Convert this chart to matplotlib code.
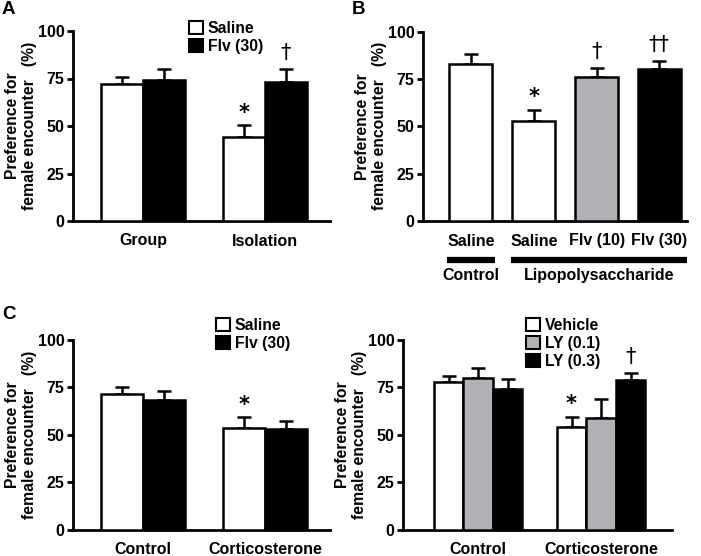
import matplotlib
matplotlib.use("Agg")
import matplotlib.pyplot as plt
from matplotlib.patches import Patch
import matplotlib.transforms as mtransforms
import numpy as np

plt.rcParams['font.family'] = ['Liberation Sans', 'DejaVu Sans']
plt.rcParams['font.weight'] = 'bold'

GRAY = '#b2b2b6'

# Panel A
a_groups = ['Group', 'Isolation']
a_series = ['Saline', 'Flv (30)']
a_saline = [72, 44]
a_saline_sem = [4, 6.3]
a_flv = [74, 73]
a_flv_sem = [6, 7.2]

# Panel B
b_labels = ['Saline', 'Saline', 'Flv (10)', 'Flv (30)']
b_vals = [83, 53, 76, 80]
b_sem = [5, 5.5, 4.8, 4.6]
b_groups = ['Control', 'Lipopolysaccharide']

# Panel C
c_groups = ['Control', 'Corticosterone']
c_series = ['Saline', 'Flv (30)']
c_saline = [71.5, 53.3]
c_saline_sem = [3.5, 5.8]
c_flv = [68.5, 53]
c_flv_sem = [4.3, 4.3]

# Panel D
d_groups = ['Control', 'Corticosterone']
d_series = ['Vehicle', 'LY (0.1)', 'LY (0.3)']
d_vehicle = [77.5, 54]
d_vehicle_sem = [3.3, 5.3]
d_ly01 = [80, 59]
d_ly01_sem = [5.3, 10]
d_ly03 = [74, 79]
d_ly03_sem = [5.4, 3.6]

yticks = [0, 25, 50, 75, 100]
ylabel = 'Preference for\nfemale encounter   (%)'

W, H = 701, 556
fig = plt.figure(figsize=(W / 100, H / 100), dpi=100)


def px_axes(l, r, t, b):
    return fig.add_axes([l / W, 1 - b / H, (r - l) / W, (b - t) / H])


def style(ax):
    for s in ['top', 'right']:
        ax.spines[s].set_visible(False)
    for s in ['left', 'bottom']:
        ax.spines[s].set_linewidth(2.0)
    ax.set_ylim(0, 100)
    ax.set_yticks(yticks)
    ax.tick_params(axis='y', length=4.5, width=2.0, pad=1.5, labelsize=11.5)
    ax.tick_params(axis='x', length=0, pad=9, labelsize=11.5)
    for lab in ax.get_xticklabels() + ax.get_yticklabels():
        lab.set_fontweight('bold')
    ax.set_ylabel(ylabel, fontsize=11.3, fontweight='bold', labelpad=1, linespacing=1.1)


def bars(ax, x, vals, sem, color, width):
    ax.bar(x, vals, width, color=color, edgecolor='black', linewidth=1.8, zorder=3)
    ax.errorbar(x, vals, yerr=[np.zeros(len(vals)), sem], fmt='none', ecolor='black',
                elinewidth=1.8, capsize=5.2, capthick=1.8, zorder=2)


def mark(ax, x, y, s, kind):
    if kind == 'star':
        ax.text(x, y + 1.5, s, ha='center', va='bottom', fontsize=15, fontweight='bold',
                family='DejaVu Sans', clip_on=False)
    else:
        ax.text(x, y + 3.0, s, ha='center', va='bottom', fontsize=15, fontweight='normal',
                family='DejaVu Sans', clip_on=False)


def legend(ax, labels, colors, x, y):
    handles = [Patch(facecolor=c, edgecolor='black', linewidth=1.5) for c in colors]
    ax.legend(handles, labels, loc='upper left', bbox_to_anchor=(x / W, 1 - y / H),
              bbox_transform=fig.transFigure, frameon=False, borderpad=0, borderaxespad=0,
              handlelength=0.9, handleheight=0.9, handletextpad=0.3, labelspacing=0.2,
              prop={'weight': 'bold', 'size': 11.3})


# ---- Panel A ----
axA = px_axes(73, 330, 31, 221)
xa = np.arange(len(a_groups))
wa = 0.345
bars(axA, xa - wa / 2, a_saline, a_saline_sem, 'white', wa)
bars(axA, xa + wa / 2, a_flv, a_flv_sem, 'black', wa)
axA.set_xlim(-0.574, 1.533)
axA.set_xticks(xa)
axA.set_xticklabels(a_groups)
style(axA)
mark(axA, xa[1] - wa / 2, a_saline[1] + a_saline_sem[1], '*', 'star')
mark(axA, xa[1] + wa / 2, a_flv[1] + a_flv_sem[1], '\u2020', 'dagger')
legend(axA, a_series, ['white', 'black'], 189, 21)

# ---- Panel B ----
axB = px_axes(423, 687, 31.5, 221)
xb = np.arange(len(b_labels))
wb = 0.685
bars(axB, xb, b_vals, b_sem, ['white', 'white', GRAY, 'black'], wb)
axB.set_xlim(-0.764, 3.44)
axB.set_xticks(xb)
axB.set_xticklabels(b_labels)
style(axB)
mark(axB, xb[1], b_vals[1] + b_sem[1], '*', 'star')
mark(axB, xb[2], b_vals[2] + b_sem[2], '\u2020', 'dagger')
mark(axB, xb[3], b_vals[3] + b_sem[3], '\u2020\u2020', 'dagger')
trB = mtransforms.blended_transform_factory(axB.transData, axB.transAxes)
axB.plot([-0.38, 0.38], [-0.205, -0.205], color='black', lw=4.5, transform=trB,
         clip_on=False, solid_capstyle='butt')
axB.plot([0.64, 3.44], [-0.205, -0.205], color='black', lw=4.5, transform=trB,
         clip_on=False, solid_capstyle='butt')
axB.text(0, -0.29, b_groups[0], transform=trB, ha='center', va='center', fontsize=11.5,
         fontweight='bold')
axB.text(2.04, -0.29, b_groups[1], transform=trB, ha='center', va='center', fontsize=11.5,
         fontweight='bold')

# ---- Panel C ----
axC = px_axes(73, 330, 339.5, 530)
xc = np.arange(len(c_groups))
wc = 0.345
bars(axC, xc - wc / 2, c_saline, c_saline_sem, 'white', wc)
bars(axC, xc + wc / 2, c_flv, c_flv_sem, 'black', wc)
axC.set_xlim(-0.574, 1.533)
axC.set_xticks(xc)
axC.set_xticklabels(c_groups)
style(axC)
mark(axC, xc[1] - wc / 2, c_saline[1] + c_saline_sem[1], '*', 'star')
legend(axC, c_series, ['white', 'black'], 216, 318)

# ---- Panel D ----
axD = px_axes(403, 672, 339.5, 530)
xd = np.arange(len(d_groups))
wd = 0.24
bars(axD, xd - wd, d_vehicle, d_vehicle_sem, 'white', wd)
bars(axD, xd, d_ly01, d_ly01_sem, GRAY, wd)
bars(axD, xd + wd, d_ly03, d_ly03_sem, 'black', wd)
axD.set_xlim(-0.61, 1.577)
axD.set_xticks(xd)
axD.set_xticklabels(d_groups)
style(axD)
mark(axD, xd[1] - wd, d_vehicle[1] + d_vehicle_sem[1], '*', 'star')
mark(axD, xd[1] + wd, d_ly03[1] + d_ly03_sem[1], '\u2020', 'dagger')
legend(axD, d_series, ['white', GRAY, 'black'], 526, 318)

# Panel letters
for letter, x, y in [('A', 2, 1), ('B', 352, 1), ('C', 2, 306)]:
    fig.text(x / W, 1 - y / H, letter, ha='left', va='top', fontsize=13.5, fontweight='bold')

fig.savefig('out.png', dpi=100)
